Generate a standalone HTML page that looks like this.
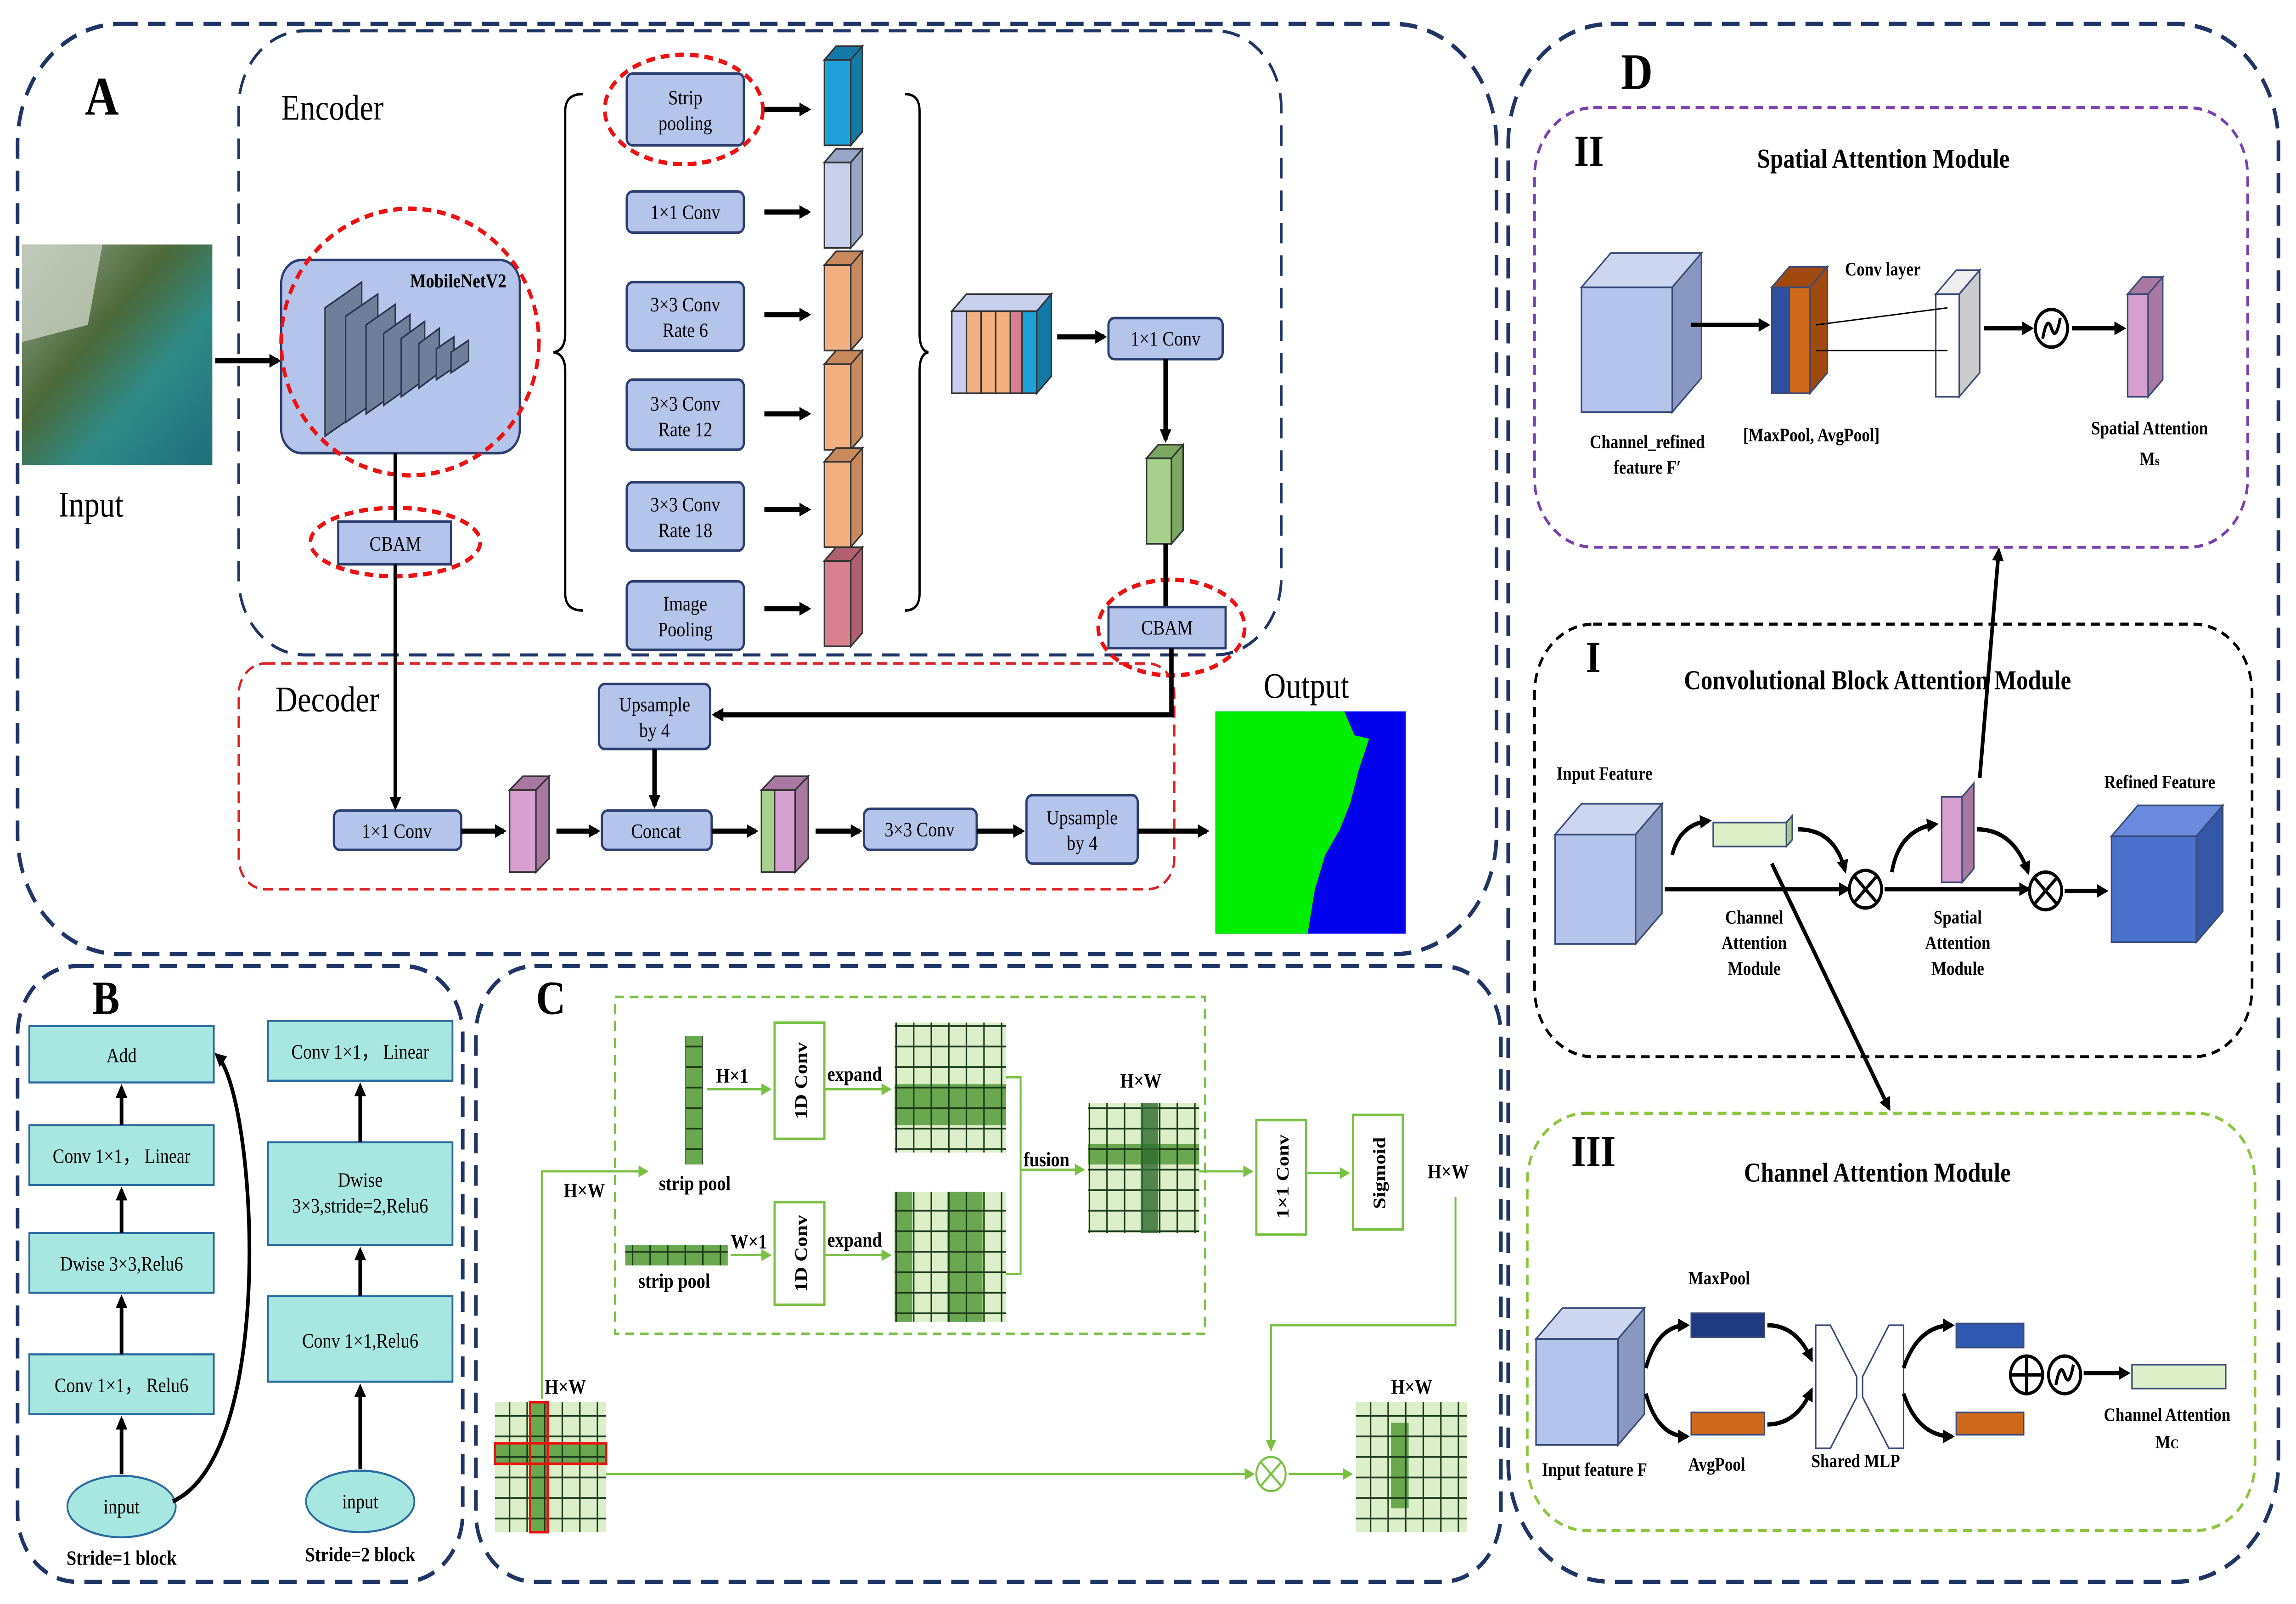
<!DOCTYPE html>
<html><head><meta charset="utf-8"><style>
html,body{margin:0;padding:0;background:#fff;overflow:hidden;width:100vw;height:100vh}
svg{display:block;width:100vw;height:100vh}
text{font-family:"Liberation Serif",serif;fill:#000}
.b{fill:#b4c4ea;stroke:#2c3e70;stroke-width:1.5}
.t{fill:#a8e6e0;stroke:#2a6aa0;stroke-width:1.2}
.s{font-size:12px}
</style></head><body>
<svg viewBox="0 0 1568 938" preserveAspectRatio="none" xmlns="http://www.w3.org/2000/svg">
<defs>
<marker id="a" markerWidth="8" markerHeight="8" refX="6" refY="4" orient="auto" markerUnits="userSpaceOnUse"><path d="M0,0L8,4L0,8z" fill="#000"/></marker>
<marker id="ag" markerWidth="7" markerHeight="7" refX="6" refY="3.5" orient="auto" markerUnits="userSpaceOnUse"><path d="M0,0L7,3.5L0,7z" fill="#7ac143"/></marker>
<pattern id="g" width="12" height="12" patternUnits="userSpaceOnUse"><rect width="12" height="12" fill="#6aa84f"/><rect width="12" height="12" fill="none" stroke="#1b3a1b" stroke-width="1"/></pattern>
<pattern id="gl" width="12" height="12" patternUnits="userSpaceOnUse"><rect width="12" height="12" fill="#dcefc8"/><rect width="12" height="12" fill="none" stroke="#1b3a1b" stroke-width="1"/></pattern>
<linearGradient id="sat" x1="0" y1="0" x2="1" y2="1"><stop offset="0" stop-color="#9aa890"/><stop offset=".4" stop-color="#4c6a3a"/><stop offset=".65" stop-color="#2e8a86"/><stop offset="1" stop-color="#1f6f7a"/></linearGradient>
</defs>
<g fill="none" stroke="#1f3566" stroke-width="2.5" stroke-dasharray="12 7">
<rect x="12" y="14" width="1010" height="544" rx="70"/>
<rect x="12" y="565" width="304" height="360" rx="40"/>
<rect x="325" y="565" width="700" height="360" rx="40"/>
<rect x="1030" y="14" width="526" height="911" rx="70"/>
<rect x="163" y="18" width="712" height="365" rx="45" stroke-width="1.8"/>
</g>
<rect x="163" y="388" width="639" height="132" rx="18" fill="none" stroke="#d22" stroke-width="1.5" stroke-dasharray="7 4"/>
<text x="58" y="67" font-size="32" font-weight="bold">A</text>
<text x="192" y="70" font-size="21">Encoder</text>
<text x="188" y="416" font-size="21">Decoder</text>
<text x="863" y="408" font-size="21">Output</text>
<text x="40" y="302" font-size="21">Input</text>
<rect x="15" y="143" width="130" height="129" fill="url(#sat)"/>
<path d="M15,143 L70,143 L60,190 L15,200z" fill="#c9cfc2" opacity=".8"/>
<line x1="147" y1="211" x2="190" y2="211" stroke="#000" stroke-width="3" marker-end="url(#a)"/>
<rect x="192" y="152" width="163" height="113" rx="14" class="b"/>
<g fill="#6f7f9a" stroke="#2a3550" stroke-width="1">
<path d="M222,180 l25,-15 v75 l-25,15z"/><path d="M236,185 l22,-13 v62 l-22,13z"/><path d="M250,190 l20,-12 v52 l-20,12z"/><path d="M262,195 l18,-11 v42 l-18,11z"/><path d="M274,198 l16,-10 v34 l-16,10z"/><path d="M286,201 l14,-9 v26 l-14,9z"/><path d="M298,204 l12,-7 v18 l-12,7z"/><path d="M308,206 l12,-7 v12 l-12,7z"/>
</g>
<text x="280" y="168" font-size="11.5" font-weight="bold">MobileNetV2</text>
<g fill="none" stroke="#e11" stroke-width="2.5" stroke-dasharray="6 4">
<ellipse cx="280" cy="200" rx="88" ry="78"/><ellipse cx="270" cy="317" rx="58" ry="20"/><ellipse cx="467" cy="64" rx="54" ry="32"/><ellipse cx="800" cy="367" rx="50" ry="28"/>
</g>
<line x1="270" y1="265" x2="270" y2="305" stroke="#000" stroke-width="2.5"/>
<rect x="231" y="305" width="77" height="25" class="b"/><text x="270" y="322" class="s" text-anchor="middle">CBAM</text>
<line x1="270" y1="330" x2="270" y2="472" stroke="#000" stroke-width="2.5" marker-end="url(#a)"/>
<path d="M398,55 q-12,0 -12,10 v130 q0,10 -8,11 q8,1 8,11 v130 q0,10 12,10" fill="none" stroke="#000" stroke-width="1.5"/>
<path d="M618,55 q10,0 10,10 v130 q0,10 6,11 q-6,1 -6,11 v130 q0,10 -10,10" fill="none" stroke="#000" stroke-width="1.5"/>
<g font-size="12" text-anchor="middle">
<rect x="428" y="43" width="80" height="42" rx="4" class="b"/><text x="468" y="61">Strip</text><text x="468" y="76">pooling</text>
<rect x="428" y="112" width="80" height="24" rx="4" class="b"/><text x="468" y="128">1×1 Conv</text>
<rect x="428" y="165" width="80" height="40" rx="4" class="b"/><text x="468" y="182">3×3 Conv</text><text x="468" y="197">Rate 6</text>
<rect x="428" y="222" width="80" height="41" rx="4" class="b"/><text x="468" y="240">3×3 Conv</text><text x="468" y="255">Rate 12</text>
<rect x="428" y="282" width="80" height="40" rx="4" class="b"/><text x="468" y="299">3×3 Conv</text><text x="468" y="314">Rate 18</text>
<rect x="428" y="340" width="80" height="40" rx="4" class="b"/><text x="468" y="357">Image</text><text x="468" y="372">Pooling</text>
</g>
<g stroke="#000" stroke-width="3" marker-end="url(#a)">
<line x1="522" y1="64" x2="552" y2="64"/><line x1="522" y1="124" x2="552" y2="124"/><line x1="522" y1="184" x2="552" y2="184"/><line x1="522" y1="242" x2="552" y2="242"/><line x1="522" y1="298" x2="552" y2="298"/><line x1="522" y1="356" x2="552" y2="356"/>
</g>
<g stroke="#333" stroke-width="1">
<g fill="#1ea0d8"><rect x="563" y="35" width="18" height="50"/><path d="M563,35 l8,-8 h18 l-8,8z M581,35 l8,-8 v50 l-8,8z" fill="#137aa8"/></g>
<g fill="#c8d0ec"><rect x="563" y="95" width="18" height="50"/><path d="M563,95 l8,-8 h18 l-8,8z M581,95 l8,-8 v50 l-8,8z" fill="#98a4c8"/></g>
<g fill="#f2b080"><rect x="563" y="155" width="18" height="50"/><path d="M563,155 l8,-8 h18 l-8,8z M581,155 l8,-8 v50 l-8,8z" fill="#c88a5c"/></g>
<g fill="#f2b080"><rect x="563" y="213" width="18" height="50"/><path d="M563,213 l8,-8 h18 l-8,8z M581,213 l8,-8 v50 l-8,8z" fill="#c88a5c"/></g>
<g fill="#f2b080"><rect x="563" y="270" width="18" height="50"/><path d="M563,270 l8,-8 h18 l-8,8z M581,270 l8,-8 v50 l-8,8z" fill="#c88a5c"/></g>
<g fill="#d88090"><rect x="563" y="328" width="18" height="50"/><path d="M563,328 l8,-8 h18 l-8,8z M581,328 l8,-8 v50 l-8,8z" fill="#b06070"/></g>
<path d="M650,182 l10,-10 h58 l-10,10z" fill="#c8d0ec"/>
<rect x="650" y="182" width="10" height="48" fill="#c8d0ec"/><rect x="660" y="182" width="10" height="48" fill="#f2b080"/><rect x="670" y="182" width="10" height="48" fill="#f2b080"/><rect x="680" y="182" width="10" height="48" fill="#f2b080"/><rect x="690" y="182" width="8" height="48" fill="#d88090"/><rect x="698" y="182" width="10" height="48" fill="#1ea0d8"/><path d="M708,182 l10,-10 v48 l-10,10z" fill="#137aa8"/>
<g fill="#a8d08d"><rect x="783" y="268" width="17" height="50"/><path d="M783,268 l8,-8 h17 l-8,8z M800,268 l8,-8 v50 l-8,8z" fill="#7aa860"/></g>
<g fill="#d8a0d0"><rect x="348" y="462" width="18" height="48"/><path d="M348,462 l9,-8 h18 l-9,8z M366,462 l9,-8 v48 l-9,8z" fill="#a878a0"/></g>
<rect x="520" y="462" width="9" height="48" fill="#a8d08d"/><rect x="529" y="462" width="14" height="48" fill="#d8a0d0"/><path d="M520,462 l9,-8 h23 l-9,8z M543,462 l9,-8 v48 l-9,8z" fill="#a878a0"/>
</g>
<line x1="722" y1="197" x2="754" y2="197" stroke="#000" stroke-width="3" marker-end="url(#a)"/>
<rect x="757" y="186" width="78" height="24" rx="4" class="b"/><text x="796" y="202" class="s" text-anchor="middle">1×1 Conv</text>
<line x1="796" y1="210" x2="796" y2="257" stroke="#000" stroke-width="3" marker-end="url(#a)"/>
<line x1="796" y1="318" x2="796" y2="355" stroke="#000" stroke-width="3"/>
<rect x="757" y="355" width="80" height="24" class="b"/><text x="797" y="371" class="s" text-anchor="middle">CBAM</text>
<path d="M800,379 V418 H488" fill="none" stroke="#000" stroke-width="3" marker-end="url(#a)"/>
<g font-size="12" text-anchor="middle">
<rect x="409" y="400" width="76" height="38" rx="4" class="b"/><text x="447" y="416">Upsample</text><text x="447" y="431">by 4</text>
<rect x="228" y="474" width="87" height="23" rx="4" class="b"/><text x="271" y="490">1×1 Conv</text>
<rect x="411" y="474" width="75" height="23" rx="4" class="b"/><text x="448" y="490">Concat</text>
<rect x="590" y="473" width="77" height="24" rx="4" class="b"/><text x="628" y="489">3×3 Conv</text>
<rect x="701" y="465" width="76" height="40" rx="4" class="b"/><text x="739" y="482">Upsample</text><text x="739" y="497">by 4</text>
</g>
<g stroke="#000" stroke-width="3" marker-end="url(#a)">
<line x1="447" y1="438" x2="447" y2="471"/><line x1="315" y1="486" x2="344" y2="486"/><line x1="380" y1="486" x2="408" y2="486"/><line x1="486" y1="486" x2="516" y2="486"/><line x1="557" y1="486" x2="587" y2="486"/><line x1="667" y1="486" x2="698" y2="486"/><line x1="777" y1="486" x2="824" y2="486"/>
</g>
<rect x="830" y="416" width="130" height="130" fill="#0000ee"/>
<path d="M830,416 H918 L925,430 L935,432 L928,450 L922,470 L915,485 L905,500 L898,520 L893,546 H830z" fill="#00ee00"/>

<text x="63" y="593" font-size="28" font-weight="bold">B</text>
<g font-size="12" text-anchor="middle">
<rect x="20" y="600" width="126" height="33" class="t"/><text x="83" y="621">Add</text>
<rect x="20" y="658" width="126" height="35" class="t"/><text x="83" y="680">Conv 1×1， Linear</text>
<rect x="20" y="721" width="126" height="35" class="t"/><text x="83" y="743">Dwise 3×3,Relu6</text>
<rect x="20" y="792" width="126" height="35" class="t"/><text x="83" y="814">Conv 1×1， Relu6</text>
<ellipse cx="83" cy="881" rx="37" ry="18" class="t"/><text x="83" y="885">input</text>
<text x="83" y="915" font-weight="bold">Stride=1 block</text>
<rect x="183" y="597" width="126" height="35" class="t"/><text x="246" y="619">Conv 1×1， Linear</text>
<rect x="183" y="668" width="126" height="60" class="t"/><text x="246" y="694">Dwise</text><text x="246" y="709">3×3,stride=2,Relu6</text>
<rect x="183" y="758" width="126" height="50" class="t"/><text x="246" y="788">Conv 1×1,Relu6</text>
<ellipse cx="246" cy="878" rx="37" ry="18" class="t"/><text x="246" y="882">input</text>
<text x="246" y="913" font-weight="bold">Stride=2 block</text>
</g>
<g stroke="#000" stroke-width="2.5" marker-end="url(#a)">
<line x1="83" y1="862" x2="83" y2="830"/><line x1="83" y1="792" x2="83" y2="759"/><line x1="83" y1="721" x2="83" y2="696"/><line x1="83" y1="658" x2="83" y2="636"/>
<line x1="246" y1="859" x2="246" y2="811"/><line x1="246" y1="758" x2="246" y2="731"/><line x1="246" y1="668" x2="246" y2="635"/>
<path d="M118,878 C190,850 175,640 148,617" fill="none"/>
</g>

<text x="366" y="593" font-size="28" font-weight="bold">C</text>
<rect x="420" y="583" width="403" height="197" fill="none" stroke="#7ac143" stroke-width="1.5" stroke-dasharray="6 4"/>
<g font-size="12" font-weight="bold">
<rect x="468" y="606" width="12" height="75" fill="url(#g)"/>
<text x="450" y="696">strip pool</text>
<rect x="427" y="728" width="70" height="12" fill="url(#g)"/>
<text x="436" y="753">strip pool</text>
<text x="489" y="633">H×1</text><text x="499" y="730">W×1</text>
<rect x="529" y="598" width="34" height="68" fill="#fff" stroke="#7ac143" stroke-width="1.5"/><text transform="translate(551,632) rotate(-90)" text-anchor="middle">1D Conv</text>
<rect x="529" y="703" width="34" height="60" fill="#fff" stroke="#7ac143" stroke-width="1.5"/><text transform="translate(551,733) rotate(-90)" text-anchor="middle">1D Conv</text>
<text x="565" y="632">expand</text><text x="565" y="729">expand</text>
<rect x="611" y="598" width="76" height="76" fill="url(#gl)"/><rect x="611" y="634" width="76" height="24" fill="url(#g)"/>
<rect x="611" y="697" width="76" height="76" fill="url(#gl)"/><rect x="647" y="697" width="24" height="76" fill="url(#g)"/><rect x="611" y="697" width="12" height="76" fill="url(#g)"/>
<text x="699" y="682">fusion</text>
<text x="765" y="636">H×W</text>
<rect x="743" y="645" width="76" height="76" fill="url(#gl)"/><rect x="743" y="669" width="76" height="12" fill="url(#g)"/><rect x="779" y="645" width="12" height="76" fill="#2d6a2d" opacity=".8"/>
<rect x="858" y="655" width="34" height="67" fill="#fff" stroke="#7ac143" stroke-width="1.5"/><text transform="translate(880,688) rotate(-90)" text-anchor="middle">1×1 Conv</text>
<rect x="924" y="652" width="34" height="67" fill="#fff" stroke="#7ac143" stroke-width="1.5"/><text transform="translate(946,686) rotate(-90)" text-anchor="middle">Sigmoid</text>
<text x="975" y="689">H×W</text>
<text x="385" y="700">H×W</text>
<text x="372" y="815">H×W</text><text x="950" y="815">H×W</text>
<rect x="338" y="820" width="76" height="76" fill="url(#gl)"/><rect x="362" y="820" width="12" height="76" fill="url(#g)"/><rect x="338" y="844" width="76" height="12" fill="url(#g)"/>
<rect x="362" y="820" width="12" height="76" fill="none" stroke="#e11" stroke-width="1.5"/><rect x="338" y="844" width="76" height="12" fill="none" stroke="#e11" stroke-width="1.5"/>
<rect x="926" y="820" width="76" height="76" fill="url(#gl)"/><rect x="950" y="832" width="12" height="50" fill="url(#g)"/>
</g>
<g stroke="#7ac143" stroke-width="1.3" fill="none" marker-end="url(#ag)">
<line x1="483" y1="637" x2="526" y2="637"/><line x1="499" y1="734" x2="526" y2="734"/>
<line x1="563" y1="637" x2="608" y2="637"/><line x1="563" y1="734" x2="608" y2="734"/>
<path d="M687,630 H697 V745 H687" marker-end="none"/><line x1="697" y1="684" x2="740" y2="684"/>
<line x1="819" y1="685" x2="855" y2="685"/><line x1="892" y1="686" x2="921" y2="686"/>
<path d="M370,818 V685 H442"/>
<path d="M994,700 V775 H868 V848"/>
<line x1="414" y1="862" x2="856" y2="862"/><line x1="880" y1="862" x2="923" y2="862"/>
</g>
<circle cx="868" cy="862" r="10" fill="#fff" stroke="#7ac143" stroke-width="1.3"/><path d="M861,855 L875,869 M875,855 L861,869" stroke="#7ac143" stroke-width="1.3"/>

<text x="1107" y="52" font-size="30" font-weight="bold">D</text>
<rect x="1048" y="63" width="487" height="257" rx="40" fill="none" stroke="#7a3fb0" stroke-width="1.8" stroke-dasharray="6 4"/>
<rect x="1048" y="365" width="490" height="253" rx="40" fill="none" stroke="#000" stroke-width="1.8" stroke-dasharray="6 4"/>
<rect x="1043" y="651" width="497" height="244" rx="40" fill="none" stroke="#8cc63f" stroke-width="1.8" stroke-dasharray="6 4"/>
<g font-weight="bold">
<text x="1075" y="97" font-size="26">II</text><text x="1200" y="98" font-size="16">Spatial Attention Module</text>
<text x="1083" y="393" font-size="26">I</text><text x="1150" y="403" font-size="16">Convolutional Block Attention Module</text>
<text x="1073" y="682" font-size="26">III</text><text x="1191" y="691" font-size="16">Channel Attention Module</text>
<g font-size="11">
<text x="1125" y="262" text-anchor="middle">Channel_refined</text><text x="1125" y="277" text-anchor="middle">feature F′</text>
<text x="1237" y="258" text-anchor="middle">[MaxPool, AvgPool]</text>
<text x="1260" y="161">Conv layer</text>
<text x="1468" y="254" text-anchor="middle">Spatial Attention</text><text x="1468" y="272" text-anchor="middle">M<tspan font-size="8">s</tspan></text>
<text x="1063" y="456">Input Feature</text><text x="1437" y="461">Refined Feature</text>
<text x="1198" y="540" text-anchor="middle">Channel</text><text x="1198" y="555" text-anchor="middle">Attention</text><text x="1198" y="570" text-anchor="middle">Module</text>
<text x="1337" y="540" text-anchor="middle">Spatial</text><text x="1337" y="555" text-anchor="middle">Attention</text><text x="1337" y="570" text-anchor="middle">Module</text>
<text x="1153" y="751">MaxPool</text><text x="1153" y="860">AvgPool</text><text x="1237" y="858">Shared MLP</text>
<text x="1053" y="863">Input feature F</text>
<text x="1480" y="831" text-anchor="middle">Channel Attention</text><text x="1480" y="847" text-anchor="middle">M<tspan font-size="8">C</tspan></text>
</g></g>
<g stroke="#3a4a78" stroke-width="1">
<rect x="1080" y="168" width="62" height="73" fill="#b4c4ea"/><path d="M1080,168 l20,-20 h62 l-20,20z" fill="#ccd6f0"/><path d="M1142,168 l20,-20 v73 l-20,20z" fill="#8898c0"/>
<rect x="1210" y="168" width="12" height="62" fill="#2f4fa0"/><rect x="1222" y="168" width="14" height="62" fill="#d06a1a"/><path d="M1210,168 l12,-12 h26 l-12,12z M1236,168 l12,-12 v62 l-12,12z" fill="#a04a10"/>
<rect x="1322" y="172" width="16" height="60" fill="#fff"/><path d="M1322,172 l14,-14 h16 l-14,14z" fill="#eee"/><path d="M1338,172 l14,-14 v60 l-14,14z" fill="#ccc"/>
<rect x="1453" y="172" width="14" height="60" fill="#d8a0d0"/><path d="M1453,172 l10,-10 h14 l-10,10z M1467,172 l10,-10 v60 l-10,10z" fill="#a878a0"/>
<rect x="1062" y="488" width="55" height="64" fill="#b4c4ea"/><path d="M1062,488 l18,-18 h55 l-18,18z" fill="#ccd6f0"/><path d="M1117,488 l18,-18 v64 l-18,18z" fill="#8898c0"/>
<rect x="1170" y="481" width="50" height="14" fill="#dcefc8"/><path d="M1220,481 l4,-4 v14 l-4,4z" fill="#a8c890"/>
<rect x="1326" y="466" width="14" height="50" fill="#d8a0d0"/><path d="M1340,466 l8,-8 v50 l-8,8z" fill="#a878a0"/>
<rect x="1442" y="489" width="58" height="62" fill="#4a72cc"/><path d="M1442,489 l18,-18 h58 l-18,18z" fill="#6a8ade"/><path d="M1500,489 l18,-18 v62 l-18,18z" fill="#3458a8"/>
<rect x="1049" y="783" width="56" height="62" fill="#b4c4ea"/><path d="M1049,783 l18,-18 h56 l-18,18z" fill="#ccd6f0"/><path d="M1105,783 l18,-18 v62 l-18,18z" fill="#8898c0"/>
<rect x="1155" y="768" width="50" height="14" fill="#1f3a80"/><rect x="1155" y="826" width="50" height="13" fill="#d06a1a"/>
<rect x="1336" y="774" width="46" height="14" fill="#2f58b0"/><rect x="1336" y="826" width="46" height="13" fill="#d06a1a"/>
<rect x="1456" y="798" width="64" height="14" fill="#dcefc8"/>
<path d="M1240,775 h10 l18,30 v12 l-18,30 h-10z M1290,775 h10 v72 h-10 l-18,-30 v-12z" fill="#fff"/>
</g>
<g stroke="#000" stroke-width="2.5" fill="none" marker-end="url(#a)">
<line x1="1155" y1="190" x2="1207" y2="190"/><line x1="1355" y1="192" x2="1387" y2="192"/><line x1="1415" y1="192" x2="1450" y2="192"/>
<line x1="1137" y1="520" x2="1262" y2="520"/><line x1="1287" y1="520" x2="1385" y2="520"/><line x1="1410" y1="521" x2="1438" y2="521"/>
<path d="M1142,500 q5,-18 25,-20"/><path d="M1228,485 q25,0 32,24"/><path d="M1292,510 q5,-25 30,-28"/><path d="M1350,485 q25,0 35,25"/>
<line x1="1352" y1="455" x2="1365" y2="322"/><line x1="1210" y1="505" x2="1290" y2="648"/>
<path d="M1124,800 q8,-25 28,-25"/><path d="M1124,815 q8,25 28,25"/><path d="M1207,775 q20,0 30,20"/><path d="M1207,833 q20,0 30,-20"/>
<path d="M1300,800 q10,-25 33,-25"/><path d="M1300,815 q10,25 33,25"/><line x1="1423" y1="803" x2="1453" y2="803"/>
</g>
<g fill="none" stroke="#000" stroke-width="0.8"><line x1="1240" y1="190" x2="1330" y2="180"/><line x1="1240" y1="205" x2="1330" y2="205"/></g>
<circle cx="1401" cy="192" r="11" fill="#fff" stroke="#000" stroke-width="2"/><path d="M1395,198 q3,-14 6,-6 q3,8 6,-6" fill="none" stroke="#000" stroke-width="2"/>
<circle cx="1274" cy="520" r="11" fill="#fff" stroke="#000" stroke-width="2"/><path d="M1266,512 L1282,528 M1282,512 L1266,528" stroke="#000" stroke-width="2"/>
<circle cx="1397" cy="521" r="11" fill="#fff" stroke="#000" stroke-width="2"/><path d="M1389,513 L1405,529 M1405,513 L1389,529" stroke="#000" stroke-width="2"/>
<circle cx="1384" cy="804" r="11" fill="#fff" stroke="#000" stroke-width="2"/><path d="M1373,804 H1395 M1384,793 V815" stroke="#000" stroke-width="2"/>
<circle cx="1410" cy="804" r="11" fill="#fff" stroke="#000" stroke-width="2"/><path d="M1404,810 q3,-14 6,-6 q3,8 6,-6" fill="none" stroke="#000" stroke-width="2"/>
</svg>
</body></html>
